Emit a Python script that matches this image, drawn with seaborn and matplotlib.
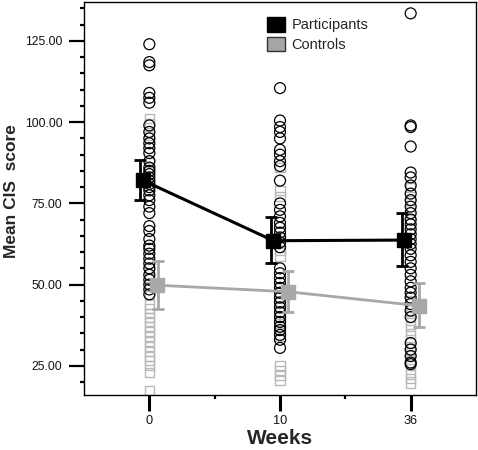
import numpy as np
import pandas as pd
import matplotlib
matplotlib.use("Agg")
import matplotlib.pyplot as plt
from matplotlib.patches import Patch
from matplotlib.ticker import FixedLocator, FormatStrFormatter
import seaborn as sns

# ---------------- data ----------------
weeks = ["0", "10", "36"]
groups = ["Participants", "Controls"]

part_w0 = [124, 118.5, 117.5, 109, 107.5, 106, 99, 97, 95, 93.5, 92, 90.5, 88, 86, 85,
           84, 83, 82, 81, 80, 79, 77.5, 76, 74, 72, 68, 66.5, 64, 62, 61, 59.5, 58,
           56.5, 55, 53, 51.5, 50, 48.5, 47]
part_w10 = [110.5, 100.5, 98.5, 97, 95, 91.5, 90, 88, 86.5, 82, 75, 73, 71, 69, 67.5, 66,
            64.5, 63, 61.5, 55, 53.5, 52, 50.5, 49, 47.5, 46, 44.5, 43, 41.5, 40, 38.5,
            37, 36, 34.5, 33, 30.5]
part_w36 = [133.5, 99, 98.5, 92.5, 84.5, 83, 80.5, 78, 76, 74, 72, 70, 68.5, 67, 65.5, 64,
            62.5, 61, 59, 57, 55, 53, 51, 49, 47.5, 46, 44, 42, 40, 32, 30, 28, 26, 25.5]

ctrl_w0 = [101, 99.5, 96, 87.5, 86, 55, 52, 49.5, 47, 44, 42.5, 41, 40, 38.5, 37, 35.5,
           34, 32.5, 31, 29.5, 28, 26.5, 25, 23, 17.5]
ctrl_w10 = [86, 79, 77, 64.5, 62.5, 60.5, 58.5, 49, 47.5, 46, 44.5, 43, 41.5, 40, 38, 36,
            34, 25, 23.5, 22, 20.5]
ctrl_w36 = [80, 76, 73, 70, 45, 43, 41, 39, 37, 35, 33, 31, 29, 27, 25, 23, 21, 19.5]

part_mean = [82.1, 63.5, 63.7]
part_lo = [76.0, 56.5, 55.8]
part_hi = [88.5, 70.8, 72.0]
ctrl_mean = [49.8, 47.8, 43.5]
ctrl_lo = [42.4, 41.6, 36.8]
ctrl_hi = [57.3, 54.2, 50.5]

# ---------------- build table ----------------
rows = []
for g, series in [("Participants", [part_w0, part_w10, part_w36]),
                  ("Controls", [ctrl_w0, ctrl_w10, ctrl_w36])]:
    for i, vals in enumerate(series):
        for v in vals:
            rows.append({"group": g, "week": weeks[i], "pos": i, "score": v})
df = pd.DataFrame(rows)

sns.set_theme(style="ticks")
plt.rcParams["font.family"] = ["Liberation Sans", "DejaVu Sans"]

GRAY = "#a8a8a8"
SQ_GRAY = "#b8b8b8"

fig = plt.figure(figsize=(4.78, 4.5), dpi=100)
ax = fig.add_axes([84 / 478, 55 / 450, 392 / 478, 393 / 450])

# raw points
sns.scatterplot(data=df[df.group == "Controls"], x="pos", y="score", marker="s",
                color=SQ_GRAY, facecolor="none", edgecolor=SQ_GRAY, linewidth=1.0,
                s=42, ax=ax, legend=False, zorder=2)
sns.scatterplot(data=df[df.group == "Participants"], x="pos", y="score", marker="o",
                color="black", facecolor="none", edgecolor="black", linewidth=0.9,
                s=62, ax=ax, legend=False, zorder=3)

# means with error bars
xs = np.arange(len(weeks))
pm = np.array(part_mean); cm = np.array(ctrl_mean)
ax.errorbar(xs + 0.065, cm, yerr=[cm - np.array(ctrl_lo), np.array(ctrl_hi) - cm],
            fmt="none", ecolor=GRAY, elinewidth=2.0, capsize=4.5, capthick=2.0, zorder=4)
ax.plot(xs + 0.06, cm, color=GRAY, lw=2.0, marker="s", markersize=9.5,
        markerfacecolor=GRAY, markeredgecolor=GRAY, zorder=5)
ax.errorbar(xs - 0.07, pm, yerr=[pm - np.array(part_lo), np.array(part_hi) - pm],
            fmt="none", ecolor="black", elinewidth=2.0, capsize=4.5, capthick=2.0, zorder=6)
ax.plot(xs - 0.05, pm, color="black", lw=2.2, marker="s", markersize=9.5,
        markerfacecolor="black", markeredgecolor="black", zorder=7)

# axes
ax.set_xlim(-0.5, 2.5)
ax.set_ylim(16, 137)
ax.set_xticks(xs)
ax.set_xticklabels(weeks)
ax.xaxis.set_minor_locator(FixedLocator([0.5, 1.5]))
ax.yaxis.set_major_locator(FixedLocator([25, 50, 75, 100, 125]))
ax.yaxis.set_minor_locator(FixedLocator(list(range(20, 136, 5))))
ax.yaxis.set_major_formatter(FormatStrFormatter("%.2f"))
ax.tick_params(axis="y", which="major", length=11, width=1.6, labelsize=8.7, pad=4.5,
               color="black", labelcolor="#111111")
ax.tick_params(axis="y", which="minor", length=3, width=1.6, color="black")
ax.tick_params(axis="x", which="major", length=11.5, width=2.2, labelsize=9.2, pad=3.0,
               color="black", labelcolor="#111111")
ax.tick_params(axis="x", which="minor", length=3, width=1.6, color="black")
for sp in ax.spines.values():
    sp.set_visible(True)
    sp.set_linewidth(1.0)
    sp.set_color("black")

ax.set_xlabel("Weeks", fontsize=15, fontweight="bold")
ax.set_ylabel("Mean CIS  score", fontsize=12.5, fontweight="bold")
ax.yaxis.set_label_coords(-0.167, 0.519)
ax.xaxis.set_label_coords(0.5, -0.086)

handles = [Patch(facecolor="black", edgecolor="black", label="Participants"),
           Patch(facecolor="#a6a6a6", edgecolor="#333333", label="Controls")]
ax.legend(handles=handles, loc="upper left", bbox_to_anchor=(0.467, 0.962),
          frameon=False, fontsize=10.5, handlelength=1.24, handleheight=1.16,
          labelspacing=0.3, handletextpad=0.45, borderpad=0, borderaxespad=0)

fig.savefig("out.png", dpi=100)
